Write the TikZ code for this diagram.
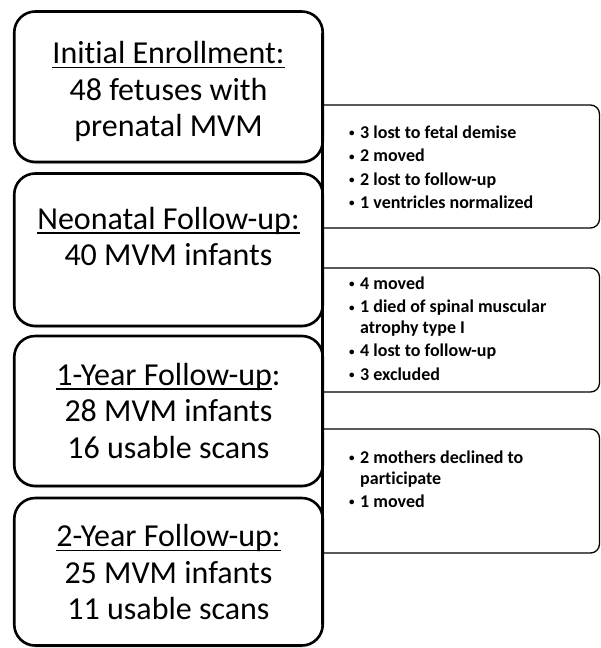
\documentclass[tikz,border=0pt]{standalone}
\usepackage{fontspec}
\setmainfont{Carlito}[Ligatures=CommonOff]
\usetikzlibrary{shadows}

\newlength\ulw
\newcommand{\ulin}[1]{\settowidth\ulw{#1}\rlap{\rule[-4.6pt]{\ulw}{1.4pt}}#1}
\newcommand{\bitem}[1]{\makebox[11pt][l]{\raisebox{1.6pt}{\fontsize{11}{11}\selectfont\textbullet}}#1}
\newcommand{\bcont}[1]{\hspace*{11pt}#1}

\tikzset{
  stagebox/.style={draw,line width=2.6pt,rounded corners=21pt,minimum width=308.5pt,
    inner sep=0pt,outer sep=0pt,fill=white,
    drop shadow={shadow xshift=0pt,shadow yshift=-2pt,opacity=0.3}},
  stagetext/.style={anchor=north,inner sep=0pt,align=center,
    font=\fontsize{32}{36.5}\selectfont},
  lossframe/.style={line width=1.3pt,rounded corners=9pt},
  losslist/.style={anchor=north west,inner sep=0pt,align=left,
    font=\fontsize{18}{20.7}\selectfont\bfseries}
}

\begin{document}
\begin{tikzpicture}[x=1pt,y=-1pt]
  \useasboundingbox (0,0) rectangle (601,648);

  % the four stages
  \node[stagebox,minimum height=150.5pt] (enroll) at (168.5,86.75) {};
  \node[stagebox,minimum height=152.5pt] (neo) at (168.5,249.75) {};
  \node[stagebox,minimum height=150pt] (oneyr) at (168.5,411) {};
  \node[stagebox,minimum height=147.5pt] (twoyr) at (168.5,571.75) {};

  \node[stagetext] (enrolltxt) at (168.5,41.1)
    {\ulin{Initial Enrollment:}\\48 fetuses with\\prenatal MVM};
  \node[stagetext] (neotxt) at (168.5,206.6)
    {\ulin{Neonatal Follow-up:}\\40 MVM infants};
  \node[stagetext] (oneyrtxt) at (168.5,362.6)
    {\ulin{1-Year Follow-up}:\\28 MVM infants\\16 usable scans};
  \node[stagetext] (twoyrtxt) at (168.5,524.1)
    {\ulin{2-Year Follow-up:}\\25 MVM infants\\11 usable scans};

  % losses between the stages
  \foreach \ya/\yb in {105/228,268/392,429/553}
    \draw[lossframe] (enroll.east |- 0,\ya) -- (599.5,\ya) -- (599.5,\yb) -- (enroll.east |- 0,\yb);
  \draw[line width=2.6pt] ([yshift=-21pt]enroll.north east) -- ([yshift=21pt]twoyr.south east);

  \node[losslist] (loss1) at (349,125.6)
    {\bitem{3 lost to fetal demise}\\[2.6pt]\bitem{2 moved}\\[2.6pt]\bitem{2 lost to follow-up}\\[2.6pt]\bitem{1 ventricles normalized}};
  \node[losslist] (loss2) at (349,276.7)
    {\bitem{4 moved}\\[2.6pt]\bitem{1 died of spinal muscular}\\\bcont{atrophy type I}\\[2.6pt]\bitem{4 lost to follow-up}\\[2.6pt]\bitem{3 excluded}};
  \node[losslist] (loss3) at (349,450.7)
    {\bitem{2 mothers declined to}\\\bcont{participate}\\[2.6pt]\bitem{1 moved}};
\end{tikzpicture}
\end{document}
